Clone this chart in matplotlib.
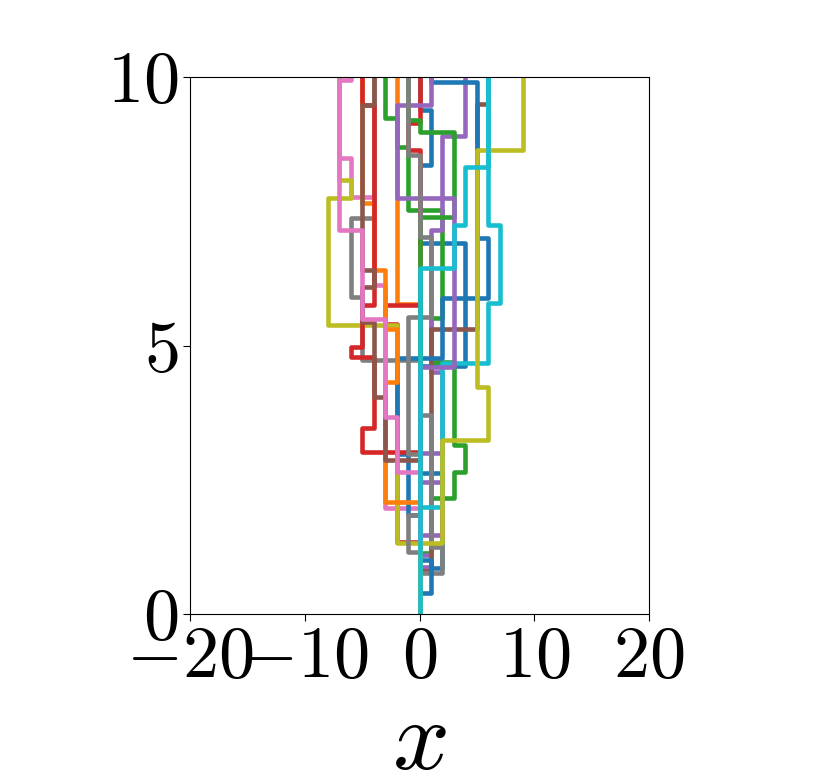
import matplotlib
matplotlib.use('Agg')
import matplotlib.pyplot as plt
import numpy as np

# figure style (LaTeX look without LaTeX)
plt.rcParams['font.family'] = 'serif'
plt.rcParams['font.serif'] = ['cmr10']
plt.rcParams['mathtext.fontset'] = 'cm'
plt.rcParams['axes.formatter.use_mathtext'] = True
plt.rcParams['axes.unicode_minus'] = True

# walks: positions visited and the times of the jumps between them
walk_x = [
    [0, 2, 0, 4, 0, 1, 0],
    [0, -2],
    [0, 1, 3, 4, 3, 1, 2, -1, -2, -3],
    [0, -2, -3, 0, -1, 0],
    [0, 1, 0, 2, 0, 2, 1, 2, 4],
    [0, 1, 5, 6],
    [0, -3, -4, -6, -7],
    [0, 2, 1, 0, -5, -6, -4],
    [0, -2, -8, -6, -7],
    [0, 2, 6, 7, 6],
    [0, 1, 0, -1, -2, 2, 6, 5, 1],
    [0, -3, -2, -3, -4, -5],
    [0, 3, 0, -1],
    [0, -5, -4, -6, -5, -4, -5],
    [0, 3, -2, 1],
    [0, -3, -4, -5, -4, -5, -4],
    [0, -2, -3, -5, -7, -6],
    [0, -1, 0, -1, 1, 0, -1],
    [0, 2, 6, 5, 9],
    [0, 3, 4, 6],
]
walk_t = [
    [0.86, 2.62, 4.62, 6.90, 8.36, 9.38],
    [5.78],
    [1.13, 2.16, 2.64, 3.15, 4.70, 5.52, 7.52, 8.70, 9.23],
    [1.34, 5.40, 5.75, 8.64, 9.14],
    [0.88, 1.10, 1.47, 2.45, 3.00, 4.50, 7.15, 8.90],
    [0.80, 5.30, 9.50],
    [1.97, 6.12, 7.77, 8.50],
    [0.76, 1.25, 3.70, 4.73, 5.90, 7.37],
    [1.32, 5.38, 7.75, 8.08],
    [2.00, 4.67, 5.79, 7.24],
    [0.39, 1.00, 1.84, 2.98, 4.77, 5.88, 7.00, 9.90],
    [2.08, 4.32, 5.30, 6.40, 7.65],
    [7.40, 8.98, 9.20],
    [3.02, 3.46, 4.79, 4.98, 5.75, 9.48],
    [4.60, 7.75, 9.48],
    [2.87, 4.04, 5.44, 6.09, 6.40, 9.48],
    [2.64, 3.66, 5.50, 7.15, 9.94],
    [1.15, 1.84, 2.98, 5.53, 7.02, 8.55],
    [1.32, 3.24, 4.23, 8.64],
    [6.44, 7.24, 8.33],
]
t_end = 10

fig = plt.figure(figsize=(8.3, 7.78), dpi=100)
ax = fig.add_axes([190 / 830, 1 - 614 / 778, 459 / 830, 537 / 778])

for xs, ts in zip(walk_x, walk_t):
    xs = np.array(xs)
    times = np.concatenate([[0], ts, [t_end]])
    # x held constant between jumps -> vertical runs joined by horizontal jumps
    px = np.repeat(xs, 2)
    py = np.repeat(times, 2)[1:-1]
    ax.plot(px, py, linewidth=3.3)

ax.set_xlim(-20, 20)
ax.set_ylim(0, 10)
ax.set_xticks([-20, -10, 0, 10, 20])
ax.set_yticks([0, 5, 10])
ax.tick_params(labelsize=52, length=5)
ax.set_xlabel('$x$', fontsize=72, labelpad=6)

plt.savefig('out.png', dpi=100)
